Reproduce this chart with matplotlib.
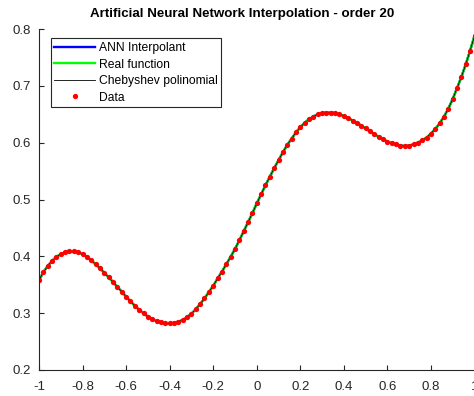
#!/usr/bin/env python
import numpy as np
import matplotlib
matplotlib.use('Agg')
import matplotlib.pyplot as plt

# sample nodes on [-1, 1], step 0.02
x_nodes = np.arange(101) * 0.02 - 1.0

# function values at the nodes
y_data = [
    0.358, 0.372, 0.383, 0.392, 0.399, 0.404, 0.407, 0.409, 0.409, 0.407,
    0.404, 0.399, 0.393, 0.386, 0.379, 0.371, 0.363, 0.355, 0.346, 0.338,
    0.329, 0.321, 0.313, 0.306, 0.300, 0.294, 0.290, 0.286, 0.284, 0.282,
    0.282, 0.283, 0.285, 0.288, 0.293, 0.299, 0.307, 0.316, 0.326, 0.337,
    0.348, 0.361, 0.373, 0.386, 0.399, 0.413, 0.428, 0.444, 0.460, 0.476,
    0.493, 0.509, 0.525, 0.540, 0.555, 0.569, 0.583, 0.596, 0.607, 0.618,
    0.627, 0.635, 0.641, 0.646, 0.650, 0.652, 0.653, 0.653, 0.652, 0.650,
    0.647, 0.643, 0.639, 0.635, 0.630, 0.625, 0.620, 0.615, 0.610, 0.606,
    0.602, 0.599, 0.597, 0.595, 0.594, 0.595, 0.597, 0.600, 0.604, 0.609,
    0.616, 0.624, 0.634, 0.646, 0.660, 0.677, 0.696, 0.716, 0.738, 0.762,
    0.788,
]

# the three fitted curves coincide with the data at this scale
y_ann = y_data
y_real = y_data
y_cheb = y_data

x_ticks = [-1, -0.8, -0.6, -0.4, -0.2, 0, 0.2, 0.4, 0.6, 0.8, 1]
x_tick_labels = ['-1', '-0.8', '-0.6', '-0.4', '-0.2', '0', '0.2', '0.4', '0.6', '0.8', '1']
y_ticks = [0.2, 0.3, 0.4, 0.5, 0.6, 0.7, 0.8]
y_tick_labels = ['0.2', '0.3', '0.4', '0.5', '0.6', '0.7', '0.8']

labels = ['ANN Interpolant', 'Real function', 'Chebyshev polinomial', 'Data']

plt.rcParams['font.family'] = ['Liberation Sans', 'DejaVu Sans']
axis_grey = '#262626'

fig = plt.figure(figsize=(4.74, 3.96), dpi=100)
ax = fig.add_axes([39 / 474, 1 - 370 / 396, 435.5 / 474, 341 / 396])

ax.plot(x_nodes, y_ann, color=(0, 0, 1), lw=1.7, label=labels[0])
ax.plot(x_nodes, y_real, color=(0, 1, 0), lw=1.7, label=labels[1])
ax.plot(x_nodes, y_cheb, color='k', lw=0.6, label=labels[2])
ax.plot(x_nodes, y_data, ls='none', marker='o', ms=3.8, mfc='#ff0000',
        mec='#ff0000', mew=0, label=labels[3])

ax.set_xlim(-1, 1)
ax.set_ylim(0.2, 0.8)
ax.set_xticks(x_ticks)
ax.set_xticklabels(x_tick_labels)
ax.set_yticks(y_ticks)
ax.set_yticklabels(y_tick_labels)

for side in ('top', 'right'):
    ax.spines[side].set_visible(False)
for side in ('left', 'bottom'):
    ax.spines[side].set_color(axis_grey)
    ax.spines[side].set_linewidth(0.8)
ax.tick_params(direction='in', length=3.5, width=0.8, colors=axis_grey,
               labelsize=9.5)
ax.tick_params(axis='x', pad=8)
ax.tick_params(axis='y', pad=6)

fig.text(242 / 474, 1 - 14 / 396, 'Artificial Neural Network Interpolation - order 20',
         ha='center', va='center', fontsize=9.6, fontweight='bold', color='k')

leg = ax.legend(loc='upper left', bbox_to_anchor=(50.7 / 474, 1 - 38.3 / 396),
                bbox_transform=fig.transFigure, fontsize=8.7, frameon=True,
                fancybox=False, framealpha=1, edgecolor=axis_grey,
                handlelength=3.4, handletextpad=0.3, borderpad=0.3,
                borderaxespad=0, labelspacing=0.38, numpoints=1)
leg.get_frame().set_linewidth(0.8)

fig.savefig('out.png', dpi=100)
